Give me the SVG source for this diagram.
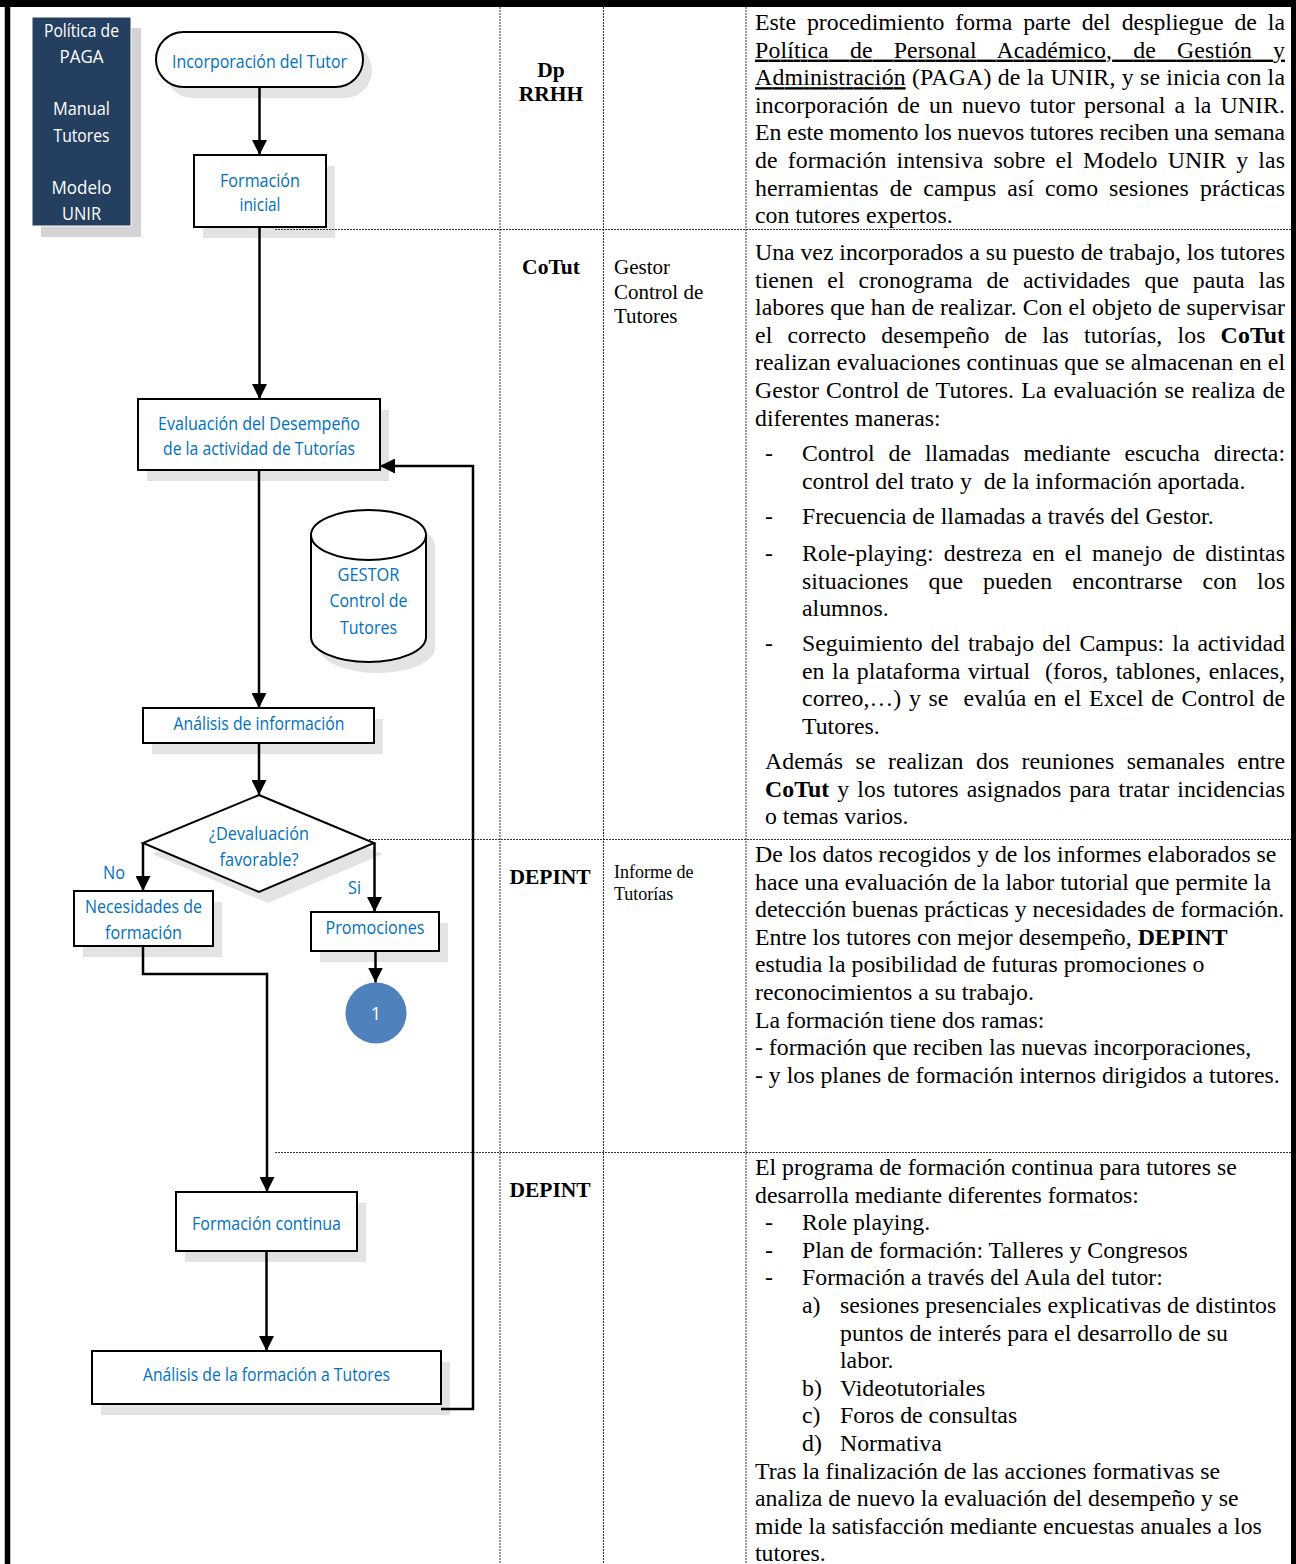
<svg xmlns="http://www.w3.org/2000/svg" width="1296" height="1564" viewBox="0 0 1296 1564">
<defs>
<marker id="ah" viewBox="0 0 10 10" refX="10" refY="5" markerWidth="15" markerHeight="15" markerUnits="userSpaceOnUse" orient="auto">
<path d="M0,0 L10,5 L0,10 z" fill="#000"/>
</marker>
</defs>
<style>
.ft{font-family:"Open Sans","Liberation Sans",sans-serif;font-size:18px;fill:#0070C0;text-anchor:middle}
.wt{fill:#fff}
.box{fill:#fff;stroke:#000;stroke-width:2}
.sh{fill:#E3E3E3}
.conn{fill:none;stroke:#000;stroke-width:2.5}
.grid{stroke:#333;stroke-width:1;stroke-dasharray:2 1;fill:none}
.tx{font-family:"Liberation Serif","Times New Roman",serif;font-size:23.8px;fill:#000}
.hd{font-family:"Liberation Serif","Times New Roman",serif;font-size:21.5px;font-weight:bold;fill:#000;text-anchor:middle}
.c3{font-family:"Liberation Serif","Times New Roman",serif;font-size:21px;fill:#000}
.c3s{font-family:"Liberation Serif","Times New Roman",serif;font-size:18px;fill:#000}
.b{font-weight:bold}
.u{text-decoration:underline}
</style>
<rect width="1296" height="1564" fill="#fff"/>

<g id="frame">
<line x1="0" y1="3.5" x2="1296" y2="3.5" stroke="#000" stroke-width="7"/>
<line x1="7.5" y1="0" x2="7.5" y2="1564" stroke="#000" stroke-width="5.5"/>
<line x1="1293.5" y1="0" x2="1293.5" y2="1564" stroke="#000" stroke-width="5"/>
</g>

<g id="node-politica">
<rect x="41" y="28" width="100" height="209" fill="#D3D3D3"/>
<rect x="32" y="17" width="99" height="209" fill="#243F60" stroke="#fff" stroke-width="1"/>
<text class="ft wt" x="81.5" y="36.5" textLength="75" lengthAdjust="spacingAndGlyphs">Política de</text>
<text class="ft wt" x="81.5" y="62.5" textLength="44" lengthAdjust="spacingAndGlyphs">PAGA</text>
<text class="ft wt" x="81.5" y="114.5" textLength="57" lengthAdjust="spacingAndGlyphs">Manual</text>
<text class="ft wt" x="81.5" y="141.5" textLength="56" lengthAdjust="spacingAndGlyphs">Tutores</text>
<text class="ft wt" x="81.5" y="193.5" textLength="60" lengthAdjust="spacingAndGlyphs">Modelo</text>
<text class="ft wt" x="81.5" y="219.5" textLength="39" lengthAdjust="spacingAndGlyphs">UNIR</text>
</g>

<g id="node-incorporacion">
<rect class="sh" x="165" y="43" width="207" height="55" rx="27.5"/>
<rect class="box" x="156" y="32" width="207" height="55" rx="27.5"/>
<text class="ft" x="259.5" y="67.5" textLength="175" lengthAdjust="spacingAndGlyphs">Incorporación del Tutor</text>
</g>

<g id="node-formacion-inicial">
<rect class="sh" x="203" y="166" width="132" height="72"/>
<rect class="box" x="194" y="155" width="132" height="72"/>
<text class="ft" x="260" y="186.5" textLength="80" lengthAdjust="spacingAndGlyphs">Formación</text>
<text class="ft" x="260" y="210.5" textLength="41" lengthAdjust="spacingAndGlyphs">inicial</text>
</g>

<g id="node-evaluacion">
<rect class="sh" x="147" y="410" width="242" height="71"/>
<rect class="box" x="138" y="399" width="242" height="71"/>
<text class="ft" x="259" y="429.5" textLength="202" lengthAdjust="spacingAndGlyphs">Evaluación del Desempeño</text>
<text class="ft" x="259" y="454.5" textLength="192" lengthAdjust="spacingAndGlyphs">de la actividad de Tutorías</text>
</g>

<g id="node-gestor">
<path class="sh" d="M320,546 A57.5,25 0 0 1 435,546 V648 A57.5,25 0 0 1 320,648 Z"/>
<path class="box" d="M311,535 A57.5,25 0 0 1 426,535 V637 A57.5,25 0 0 1 311,637 Z"/>
<path fill="none" stroke="#000" stroke-width="2" d="M311,535 A57.5,25 0 0 0 426,535"/>
<text class="ft" x="368.5" y="580.5" textLength="62" lengthAdjust="spacingAndGlyphs">GESTOR</text>
<text class="ft" x="368.5" y="606.5" textLength="78" lengthAdjust="spacingAndGlyphs">Control de</text>
<text class="ft" x="368.5" y="633.5" textLength="57" lengthAdjust="spacingAndGlyphs">Tutores</text>
</g>

<g id="node-analisis-info">
<rect class="sh" x="152" y="719" width="231" height="35"/>
<rect class="box" x="143" y="708" width="231" height="35"/>
<text class="ft" x="259" y="729.5" textLength="171" lengthAdjust="spacingAndGlyphs">Análisis de información</text>
</g>

<g id="node-decision">
<polygon class="sh" points="268,806 383,854 268,903 152,854"/>
<polygon class="box" points="259,795 374,843 259,892 143,843"/>
<text class="ft" x="259" y="839.5" textLength="100" lengthAdjust="spacingAndGlyphs">¿Devaluación</text>
<text class="ft" x="259" y="865.5" textLength="79" lengthAdjust="spacingAndGlyphs">favorable?</text>
</g>

<g id="node-necesidades">
<rect class="sh" x="83" y="902" width="139" height="55"/>
<rect class="box" x="74" y="891" width="139" height="55"/>
<text class="ft" x="143.5" y="912.5" textLength="117" lengthAdjust="spacingAndGlyphs">Necesidades de</text>
<text class="ft" x="143.5" y="938.5" textLength="77" lengthAdjust="spacingAndGlyphs">formación</text>
</g>

<g id="node-promociones">
<rect class="sh" x="320" y="923" width="128" height="39"/>
<rect class="box" x="311" y="912" width="128" height="39"/>
<text class="ft" x="375" y="933.5" textLength="99" lengthAdjust="spacingAndGlyphs">Promociones</text>
</g>

<g id="node-conector-1">
<circle cx="376" cy="1013" r="30.5" fill="#4F81BD"/>
<text class="ft wt" x="376" y="1019.5">1</text>
</g>

<g id="node-formacion-continua">
<rect class="sh" x="185" y="1203" width="181" height="59"/>
<rect class="box" x="176" y="1192" width="181" height="59"/>
<text class="ft" x="266.5" y="1229.5" textLength="149" lengthAdjust="spacingAndGlyphs">Formación continua</text>
</g>

<g id="node-analisis-formacion">
<rect class="sh" x="101" y="1362" width="349" height="53"/>
<rect class="box" x="92" y="1351" width="349" height="53"/>
<text class="ft" x="266.5" y="1380.5" textLength="247" lengthAdjust="spacingAndGlyphs">Análisis de la formación a Tutores</text>
</g>

<g id="grid">
<line class="grid" x1="500" y1="7" x2="500" y2="1564"/>
<line class="grid" x1="603.5" y1="7" x2="603.5" y2="1564"/>
<line class="grid" x1="746" y1="7" x2="746" y2="1564"/>
<line class="grid" x1="275" y1="229.5" x2="1291" y2="229.5"/>
<line class="grid" x1="366" y1="839.5" x2="1291" y2="839.5"/>
<line class="grid" x1="275" y1="1152.5" x2="1291" y2="1152.5"/>
</g>

<g id="connectors">
<path class="conn" d="M259.5,87 V155" marker-end="url(#ah)"/>
<path class="conn" d="M259.5,227 V399" marker-end="url(#ah)"/>
<path class="conn" d="M259,470 V708" marker-end="url(#ah)"/>
<path class="conn" d="M259,743 V795" marker-end="url(#ah)"/>
<path class="conn" d="M143,843 V891" marker-end="url(#ah)"/>
<path class="conn" d="M374.5,843 V912" marker-end="url(#ah)"/>
<path class="conn" d="M375.5,951 V982.5" marker-end="url(#ah)"/>
<path class="conn" d="M143,946 V974 H267 V1192" marker-end="url(#ah)"/>
<path class="conn" d="M266.5,1251 V1351" marker-end="url(#ah)"/>
<path class="conn" d="M441,1409 H473 V466 H380" marker-end="url(#ah)"/>
<text class="ft" x="114" y="878.5" textLength="22" lengthAdjust="spacingAndGlyphs">No</text>
<text class="ft" x="354.5" y="893.5" textLength="13" lengthAdjust="spacingAndGlyphs">Si</text>
</g>

<g id="col-responsables">
<text class="hd" x="551" y="77">Dp</text>
<text class="hd" x="551" y="101">RRHH</text>
<text class="hd" x="551" y="274">CoTut</text>
<text class="hd" x="550" y="884">DEPINT</text>
<text class="hd" x="550" y="1197">DEPINT</text>
</g>

<g id="col-registros">
<text class="c3" x="614" y="274">Gestor</text>
<text class="c3" x="614" y="298.5">Control de</text>
<text class="c3" x="614" y="323">Tutores</text>
<text class="c3s" x="614" y="878">Informe de</text>
<text class="c3s" x="614" y="900">Tutorías</text>
</g>

<g id="col-descripcion-1" class="tx">
<text x="755" y="30" word-spacing="5" textLength="530" lengthAdjust="spacing">Este procedimiento forma parte del despliegue de la</text>
<text x="755" y="57.6" class="u" word-spacing="15" textLength="530" lengthAdjust="spacing">Política de Personal Académico, de Gestión y</text>
<text x="755" y="85.2" textLength="530" lengthAdjust="spacing"><tspan class="u">Administración</tspan> (PAGA) de la UNIR, y se inicia con la</text>
<text x="755" y="112.8" word-spacing="3" textLength="530" lengthAdjust="spacing">incorporación de un nuevo tutor personal a la UNIR.</text>
<text x="755" y="140.4" textLength="530" lengthAdjust="spacing">En este momento los nuevos tutores reciben una semana</text>
<text x="755" y="168" word-spacing="4" textLength="530" lengthAdjust="spacing">de formación intensiva sobre el Modelo UNIR y las</text>
<text x="755" y="195.6" word-spacing="5" textLength="530" lengthAdjust="spacing">herramientas de campus así como sesiones prácticas</text>
<text x="755" y="223.2">con tutores expertos.</text>
</g>

<g id="col-descripcion-2" class="tx">
<text x="755" y="260" textLength="530" lengthAdjust="spacing">Una vez incorporados a su puesto de trabajo, los tutores</text>
<text x="755" y="287.6" word-spacing="8" textLength="530" lengthAdjust="spacing">tienen el cronograma de actividades que pauta las</text>
<text x="755" y="315.2" textLength="530" lengthAdjust="spacing">labores que han de realizar. Con el objeto de supervisar</text>
<text x="755" y="342.8" word-spacing="9" textLength="530" lengthAdjust="spacing">el correcto desempeño de las tutorías, los <tspan class="b">CoTut</tspan></text>
<text x="755" y="370.4" textLength="530" lengthAdjust="spacing">realizan evaluaciones continuas que se almacenan en el</text>
<text x="755" y="398" word-spacing="1" textLength="530" lengthAdjust="spacing">Gestor Control de Tutores. La evaluación se realiza de</text>
<text x="755" y="425.6">diferentes maneras:</text>
<text x="765" y="461">-</text>
<text x="802" y="461" word-spacing="8" textLength="483" lengthAdjust="spacing">Control de llamadas mediante escucha directa:</text>
<text x="802" y="488.6" xml:space="preserve">control del trato y  de la información aportada.</text>
<text x="765" y="524">-</text>
<text x="802" y="524">Frecuencia de llamadas a través del Gestor.</text>
<text x="765" y="561">-</text>
<text x="802" y="561" word-spacing="4" textLength="483" lengthAdjust="spacing">Role-playing: destreza en el manejo de distintas</text>
<text x="802" y="588.6" word-spacing="14" textLength="483" lengthAdjust="spacing">situaciones que pueden encontrarse con los</text>
<text x="802" y="616.2">alumnos.</text>
<text x="765" y="651">-</text>
<text x="802" y="651" word-spacing="2" textLength="483" lengthAdjust="spacing">Seguimiento del trabajo del Campus: la actividad</text>
<text x="802" y="678.6" xml:space="preserve" word-spacing="1.5" textLength="483" lengthAdjust="spacing">en la plataforma virtual  (foros, tablones, enlaces,</text>
<text x="802" y="706.2" xml:space="preserve" word-spacing="1.5" textLength="483" lengthAdjust="spacing">correo,…) y se  evalúa en el Excel de Control de</text>
<text x="802" y="733.8">Tutores.</text>
<text x="765" y="769" word-spacing="6.5" textLength="520" lengthAdjust="spacing">Además se realizan dos reuniones semanales entre</text>
<text x="765" y="796.6" word-spacing="2" textLength="520" lengthAdjust="spacing"><tspan class="b">CoTut</tspan> y los tutores asignados para tratar incidencias</text>
<text x="765" y="824.2">o temas varios.</text>
</g>

<g id="col-descripcion-3" class="tx">
<text x="755" y="862">De los datos recogidos y de los informes elaborados se</text>
<text x="755" y="889.6">hace una evaluación de la labor tutorial que permite la</text>
<text x="755" y="917.2">detección buenas prácticas y necesidades de formación.</text>
<text x="755" y="944.8">Entre los tutores con mejor desempeño, <tspan class="b">DEPINT</tspan></text>
<text x="755" y="972.4">estudia la posibilidad de futuras promociones o</text>
<text x="755" y="1000">reconocimientos a su trabajo.</text>
<text x="755" y="1027.6">La formación tiene dos ramas:</text>
<text x="755" y="1055.2">- formación que reciben las nuevas incorporaciones,</text>
<text x="755" y="1082.8">- y los planes de formación internos dirigidos a tutores.</text>
</g>

<g id="col-descripcion-4" class="tx">
<text x="755" y="1175">El programa de formación continua para tutores se</text>
<text x="755" y="1202.6">desarrolla mediante diferentes formatos:</text>
<text x="765" y="1230.2">-</text>
<text x="802" y="1230.2">Role playing.</text>
<text x="765" y="1257.8">-</text>
<text x="802" y="1257.8">Plan de formación: Talleres y Congresos</text>
<text x="765" y="1285.4">-</text>
<text x="802" y="1285.4">Formación a través del Aula del tutor:</text>
<text x="802" y="1313">a)</text>
<text x="840" y="1313">sesiones presenciales explicativas de distintos</text>
<text x="840" y="1340.6">puntos de interés para el desarrollo de su</text>
<text x="840" y="1368.2">labor.</text>
<text x="802" y="1395.8">b)</text>
<text x="840" y="1395.8">Videotutoriales</text>
<text x="802" y="1423.4">c)</text>
<text x="840" y="1423.4">Foros de consultas</text>
<text x="802" y="1451">d)</text>
<text x="840" y="1451">Normativa</text>
<text x="755" y="1478.6">Tras la finalización de las acciones formativas se</text>
<text x="755" y="1506.2">analiza de nuevo la evaluación del desempeño y se</text>
<text x="755" y="1533.8">mide la satisfacción mediante encuestas anuales a los</text>
<text x="755" y="1561.4">tutores.</text>
</g>
</svg>
